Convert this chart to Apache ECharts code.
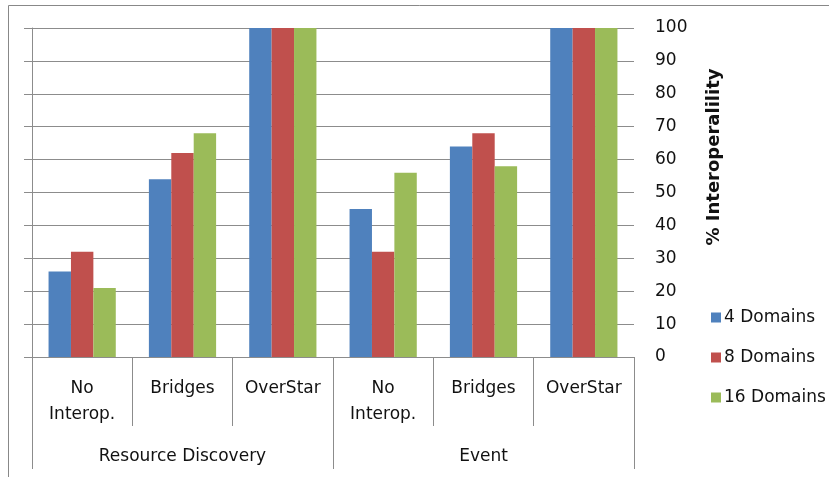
<!DOCTYPE html>
<html>
<head>
<meta charset="utf-8">
<script src="https://cdn.jsdelivr.net/npm/echarts@6/dist/echarts.min.js"></script>
<style>
    html, body { margin: 0; padding: 0; background: #fff; }
    #chart { width: 829px; height: 477px; }
</style>
</head>
<body>
<div id="chart"></div>
<script>
// 数据
var categories = ["No\nInterop.", "Bridges", "OverStar", "No\nInterop.", "Bridges", "OverStar"];
var groups = ["Resource Discovery", "Event"];
var domains4 = [26, 54, 100, 45, 64, 100];
var domains8 = [32, 62, 100, 32, 68, 100];
var domains16 = [21, 68, 100, 56, 58, 100];
var seriesNames = ["4 Domains", "8 Domains", "16 Domains"];
var colors = ["#4F81BD", "#C0504D", "#9BBB59"];

var FONT = "DejaVu Sans";
var FONT_SIZE = 17;
var GRID_COLOR = "#8c8c8c";
var TEXT_COLOR = "#111";

var chart = echarts.init(document.getElementById("chart"));

function barSeries(name, data, color) {
    return {
        name: name,
        type: "bar",
        xAxisIndex: 0,
        yAxisIndex: 0,
        data: data,
        barGap: "0%",
        barCategoryGap: "33%",
        itemStyle: {color: color},
        emphasis: {disabled: true}
    };
}

var option = {
    animation: false,
    textStyle: {fontFamily: FONT, color: TEXT_COLOR},
    grid: {left: 32, right: 195, top: 28, bottom: 120},
    legend: {
        orient: "vertical",
        left: 706,
        top: 304,
        itemWidth: 10,
        itemHeight: 10,
        itemGap: 23,
        icon: "rect",
        data: seriesNames,
        textStyle: {fontFamily: FONT, fontSize: FONT_SIZE, color: TEXT_COLOR, padding: [0, 0, 0, -2]}
    },
    xAxis: [
        {
            type: "category",
            data: categories,
            position: "bottom",
            axisLine: {show: true, lineStyle: {color: GRID_COLOR, width: 1}},
            axisTick: {show: true, length: 69, lineStyle: {color: GRID_COLOR}},
            axisLabel: {
                fontFamily: FONT, fontSize: FONT_SIZE, color: TEXT_COLOR,
                margin: 19, lineHeight: 26, interval: 0
            }
        },
        {
            type: "category",
            data: groups,
            position: "bottom",
            axisLine: {show: false},
            axisTick: {show: true, length: 112, lineStyle: {color: GRID_COLOR}},
            axisLabel: {fontFamily: FONT, fontSize: FONT_SIZE, color: TEXT_COLOR, margin: 91}
        }
    ],
    yAxis: [
        {
            type: "value",
            position: "right",
            min: 0,
            max: 100,
            interval: 10,
            axisLine: {show: false},
            axisTick: {show: false},
            splitLine: {show: true, lineStyle: {color: GRID_COLOR, width: 1}},
            axisLabel: {
                fontFamily: FONT, fontSize: FONT_SIZE, color: TEXT_COLOR,
                margin: 21, align: "left", padding: [5, 0, 0, 0]
            }
        },
        {
            // 左侧竖线及短刻度
            type: "value",
            position: "left",
            min: 0,
            max: 100,
            interval: 10,
            axisLine: {show: true, lineStyle: {color: GRID_COLOR, width: 1}},
            axisTick: {show: true, length: 8, lineStyle: {color: GRID_COLOR}},
            axisLabel: {show: false},
            splitLine: {show: false}
        }
    ],
    graphic: [
        {
            type: "rect",
            shape: {x: 8.5, y: 5.5, width: 900, height: 600},
            style: {fill: "none", stroke: "#888", lineWidth: 1},
            silent: true
        },
        {
            type: "text",
            x: 714,
            y: 157,
            rotation: Math.PI / 2,
            style: {
                text: "% Interoperalility",
                font: "bold 18px '" + FONT + "'",
                fill: TEXT_COLOR,
                align: "center",
                verticalAlign: "middle"
            }
        }
    ],
    series: [
        barSeries(seriesNames[0], domains4, colors[0]),
        barSeries(seriesNames[1], domains8, colors[1]),
        barSeries(seriesNames[2], domains16, colors[2])
    ]
};

chart.setOption(option);
</script>
</body>
</html>
